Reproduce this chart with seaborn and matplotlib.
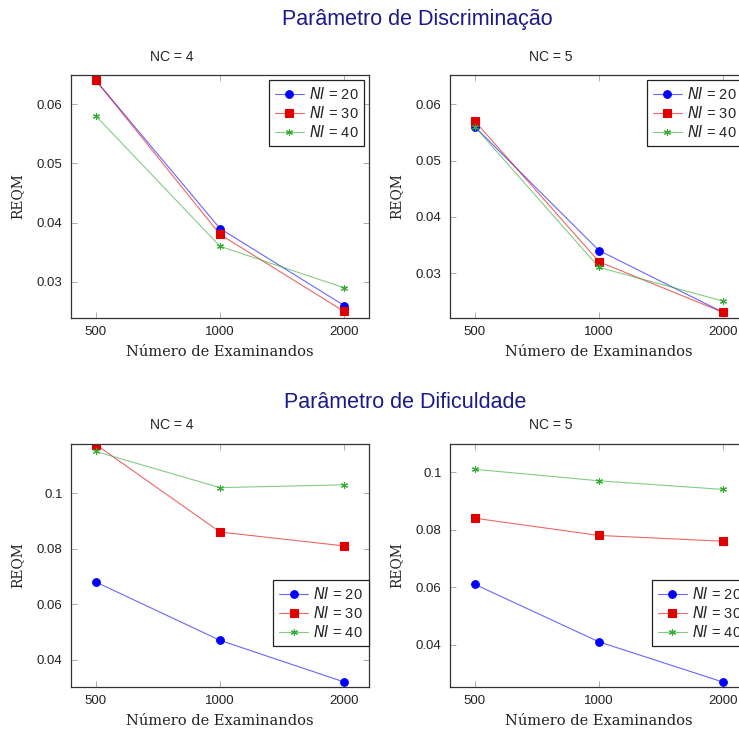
import matplotlib
matplotlib.use("Agg")
import matplotlib.pyplot as plt
import seaborn as sns
import pandas as pd
from matplotlib.ticker import FixedLocator, FuncFormatter
from matplotlib.colors import to_rgba

sns.set_style("ticks")
plt.rcParams['font.family'] = ['Liberation Sans', 'DejaVu Sans']
plt.rcParams['mathtext.fontset'] = 'dejavusans'

examinandos = [500, 1000, 2000]
ni_labels = ["$NI$ = 20", "$NI$ = 30", "$NI$ = 40"]

# Parâmetro de Discriminação
disc_nc4_ni20 = [0.064, 0.039, 0.026]
disc_nc4_ni30 = [0.064, 0.038, 0.025]
disc_nc4_ni40 = [0.058, 0.036, 0.029]
disc_nc5_ni20 = [0.056, 0.034, 0.023]
disc_nc5_ni30 = [0.057, 0.032, 0.023]
disc_nc5_ni40 = [0.056, 0.031, 0.025]

# Parâmetro de Dificuldade
dif_nc4_ni20 = [0.068, 0.047, 0.032]
dif_nc4_ni30 = [0.1175, 0.086, 0.081]
dif_nc4_ni40 = [0.115, 0.102, 0.103]
dif_nc5_ni20 = [0.061, 0.041, 0.027]
dif_nc5_ni30 = [0.084, 0.078, 0.076]
dif_nc5_ni40 = [0.101, 0.097, 0.094]

panels = [
    dict(series=[disc_nc4_ni20, disc_nc4_ni30, disc_nc4_ni40], ylim=(0.0239, 0.0649),
         yticks=[0.03, 0.04, 0.05, 0.06], legend_loc="upper left", anchor=(0.664, 0.979)),
    dict(series=[disc_nc5_ni20, disc_nc5_ni30, disc_nc5_ni40], ylim=(0.0220, 0.0652),
         yticks=[0.03, 0.04, 0.05, 0.06], legend_loc="upper left", anchor=(0.661, 0.979)),
    dict(series=[dif_nc4_ni20, dif_nc4_ni30, dif_nc4_ni40], ylim=(0.0302, 0.1177),
         yticks=[0.04, 0.06, 0.08, 0.1], legend_loc="lower left", anchor=(0.679, 0.169)),
    dict(series=[dif_nc5_ni20, dif_nc5_ni30, dif_nc5_ni40], ylim=(0.0253, 0.1098),
         yticks=[0.04, 0.06, 0.08, 0.1], legend_loc="lower left", anchor=(0.678, 0.169)),
]

W, H = 739, 729
fig = plt.figure(figsize=(W / 100, H / 100), dpi=100)

ax_w = 298 / W
ax_h = 243 / H
positions = [
    (71 / W, 1 - 318 / H),
    (450 / W, 1 - 318 / H),
    (71 / W, 1 - 687 / H),
    (450 / W, 1 - 687 / H),
]

palette = {ni_labels[0]: "#0000ff", ni_labels[1]: "#e00000", ni_labels[2]: "#33aa33"}
markers = {ni_labels[0]: "o", ni_labels[1]: "s", ni_labels[2]: (6, 2, 0)}
msizes = {ni_labels[0]: 5.5, ni_labels[1]: 6, ni_labels[2]: 5}

for p, (x0, y0) in zip(panels, positions):
    ax = fig.add_axes([x0, y0, ax_w, ax_h])
    rows = []
    for lab, vals in zip(ni_labels, p["series"]):
        for x, v in zip(examinandos, vals):
            rows.append({"Examinandos": x, "REQM": v, "NI": lab})
    df = pd.DataFrame(rows)
    ax.set_xscale("log", base=2)
    for lab in ni_labels:
        sub = df[df["NI"] == lab]
        sns.lineplot(data=sub, x="Examinandos", y="REQM", ax=ax, color=palette[lab],
                     marker=markers[lab], markersize=msizes[lab], markeredgecolor=palette[lab],
                     markerfacecolor=palette[lab],
                     markeredgewidth=0.8, linewidth=0.8, label=lab, estimator=None)
        ln = ax.lines[-1]
        ln.set_color(to_rgba(palette[lab], 0.6))
        ln.set_markerfacecolor(palette[lab])
        ln.set_markeredgecolor(palette[lab])
    ax.set_xlim(500 * 2 ** -0.2, 2000 * 2 ** 0.2)
    ax.set_ylim(*p["ylim"])
    ax.xaxis.set_major_locator(FixedLocator(examinandos))
    ax.xaxis.set_minor_locator(FixedLocator([]))
    ax.xaxis.set_major_formatter(FuncFormatter(lambda v, pos: f"{int(round(v))}"))
    ax.yaxis.set_major_locator(FixedLocator(p["yticks"]))
    ax.yaxis.set_major_formatter(FuncFormatter(lambda v, pos: f"{v:g}"))
    ax.tick_params(axis="both", direction="in", length=4, width=0.6, color="#a0a0a0",
                   top=True, right=True, labelsize=9.5, labelcolor="#222222", pad=6)
    for s in ax.spines.values():
        s.set_color("#333333")
        s.set_linewidth(0.9)
    ax.set_xlabel("Número de Examinandos", family="DejaVu Serif", fontsize=10.5, labelpad=5,
                  color="#222222")
    ax.set_ylabel("REQM", family="DejaVu Serif", fontsize=10, labelpad=9, color="#222222")
    handles, labels = ax.get_legend_handles_labels()
    leg = ax.legend(handles, labels, loc=p["legend_loc"], bbox_to_anchor=p["anchor"],
                    fontsize=10.5, frameon=True,
                    fancybox=False, framealpha=1, edgecolor="#222222", handlelength=2.0,
                    handletextpad=0.35, borderpad=0.4, labelspacing=0.2,
                    borderaxespad=0.0)
    leg.get_frame().set_linewidth(0.9)

fig.text(417 / W, 1 - 20 / H, "Parâmetro de Discriminação", ha="center", va="center",
         fontsize=15.5, color="#1a1a8c")
fig.text(405 / W, 1 - 402 / H, "Parâmetro de Dificuldade", ha="center", va="center",
         fontsize=15.5, color="#1a1a8c")
for (cx, cy) in [(172, 57), (551, 57), (172, 425), (551, 425)]:
    fig.text(cx / W, 1 - cy / H, "NC = " + ("4" if cx < 300 else "5"), ha="center",
             va="center", fontsize=10, color="#222222")

fig.savefig("out.png", dpi=100)
